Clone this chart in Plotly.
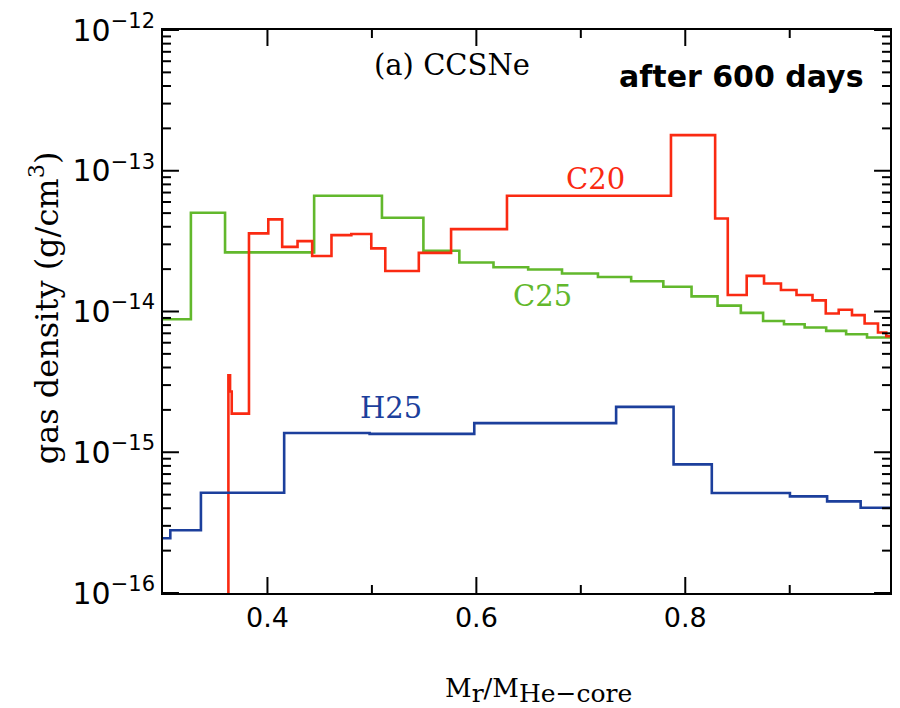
import math
import plotly.graph_objects as go

# ---- data (bin left edges and densities, g/cm^3) ----
c25_edges = [0.300, 0.3267, 0.3594, 0.4447, 0.5096, 0.5493, 0.5837, 0.6164, 0.6496,
             0.6820, 0.7164, 0.7482, 0.7790, 0.8060, 0.8309, 0.8532, 0.8745, 0.8945,
             0.9143, 0.9349, 0.9540, 0.9740]
c25_vals = [8.81e-15, 5.03e-14, 2.63e-14, 6.64e-14, 4.63e-14, 2.70e-14, 2.23e-14, 2.06e-14,
            1.99e-14, 1.86e-14, 1.76e-14, 1.64e-14, 1.50e-14, 1.28e-14, 1.10e-14, 9.78e-15,
            8.57e-15, 8.12e-15, 7.69e-15, 7.28e-15, 6.90e-15, 6.53e-15]

c20_edges = [0.3626, 0.3642, 0.3658, 0.3823, 0.4008, 0.4141, 0.4288, 0.4428, 0.4613,
             0.4803, 0.4994, 0.5128, 0.5449, 0.5758, 0.6293, 0.7863, 0.8286, 0.8407,
             0.8588, 0.8754, 0.8916, 0.9065, 0.9218, 0.9345, 0.9469, 0.9596, 0.9717,
             0.9845, 0.9924]
c20_vals = [3.52e-15, 2.70e-15, 1.88e-15, 3.59e-14, 4.51e-14, 2.88e-14, 3.16e-14, 2.48e-14,
            3.49e-14, 3.55e-14, 2.81e-14, 1.94e-14, 2.61e-14, 3.85e-14, 6.64e-14, 1.79e-13,
            4.58e-14, 1.31e-14, 1.79e-14, 1.58e-14, 1.42e-14, 1.31e-14, 1.20e-14, 9.68e-15,
            1.03e-14, 9.42e-15, 8.22e-15, 7.10e-15, 6.67e-15]
c20_floor = 1e-17  # inner edge drops off the bottom of the plot

h25_edges = [0.300, 0.307, 0.3363, 0.4160, 0.4978, 0.5980, 0.7338, 0.7888, 0.8254,
             0.9002, 0.9358, 0.9679]
h25_vals = [2.45e-16, 2.79e-16, 5.16e-16, 1.37e-15, 1.35e-15, 1.61e-15, 2.10e-15, 8.20e-16,
            5.13e-16, 4.86e-16, 4.48e-16, 4.03e-16]

x_start, x_end = 0.3, 0.996
y_lo, y_hi = -16, -12

y_tickvals = [1e-16, 1e-15, 1e-14, 1e-13, 1e-12]
y_ticktext = ["10<sup>−16</sup>", "10<sup>−15</sup>", "10<sup>−14</sup>",
              "10<sup>−13</sup>", "10<sup>−12</sup>"]
x_tickvals = [0.4, 0.6, 0.8]
x_ticktext = ["0.4", "0.6", "0.8"]
x_minor_vals = [0.5, 0.7, 0.9]
y_minor_vals = [k * 10.0 ** e for e in range(y_lo, y_hi) for k in range(2, 10)]

RED = "#fa2a12"
GREEN = "#62b82c"
BLUE = "#1c3f9c"

W, H = 900, 708
M_L, M_R, M_T, M_B = 163, 8, 30, 115
PW, PH = W - M_L - M_R, H - M_T - M_B


def steps(edges, vals):
    return list(edges) + [x_end], list(vals) + [vals[-1]]


fig = go.Figure()

gx, gy = steps(c25_edges, c25_vals)
fig.add_trace(go.Scatter(x=gx, y=gy, mode="lines", line=dict(color=GREEN, width=2.6, shape="hv"),
                         showlegend=False))

rx, ry = steps(c20_edges, c20_vals)
rx = [c20_edges[0]] + rx
ry = [c20_floor] + ry
fig.add_trace(go.Scatter(x=rx, y=ry, mode="lines", line=dict(color=RED, width=2.6, shape="hv"),
                         showlegend=False))

bx, by = steps(h25_edges, h25_vals)
fig.add_trace(go.Scatter(x=bx, y=by, mode="lines", line=dict(color=BLUE, width=2.6, shape="hv"),
                         showlegend=False))

serif = "DejaVu Serif"
sans = "DejaVu Sans"

fig.update_layout(
    width=W, height=H,
    margin=dict(l=M_L, r=M_R, t=M_T, b=M_B),
    paper_bgcolor="white", plot_bgcolor="white",
    xaxis=dict(
        range=[x_start, x_end], showline=True, mirror=True, linecolor="black", linewidth=2,
        showgrid=False, zeroline=False, ticks="",
        tickvals=x_tickvals, ticktext=x_ticktext,
        tickfont=dict(family=sans, size=27, color="black"),
    ),
    yaxis=dict(
        type="log", range=[y_lo, y_hi], showline=True, mirror=True, linecolor="black",
        linewidth=2, showgrid=False, zeroline=False, ticks="",
        tickvals=y_tickvals, ticktext=y_ticktext,
        tickfont=dict(family=sans, size=30, color="black"),
    ),
)

# inward tick marks on all four sides (positions follow the tick value arrays)
tick_line = dict(color="black", width=2)
for vals, plen in ((x_tickvals, 16), (x_minor_vals, 8)):
    for v in vals:
        xp = (v - x_start) / (x_end - x_start)
        fig.add_shape(type="line", xref="paper", yref="paper", x0=xp, x1=xp,
                      y0=0, y1=plen / PH, line=tick_line)
        fig.add_shape(type="line", xref="paper", yref="paper", x0=xp, x1=xp,
                      y0=1, y1=1 - plen / PH, line=tick_line)
for vals, plen in ((y_tickvals, 16), (y_minor_vals, 8)):
    for v in vals:
        yp = (math.log10(v) - y_lo) / (y_hi - y_lo)
        fig.add_shape(type="line", xref="paper", yref="paper", y0=yp, y1=yp,
                      x0=0, x1=plen / PW, line=tick_line)
        fig.add_shape(type="line", xref="paper", yref="paper", y0=yp, y1=yp,
                      x0=1, x1=1 - plen / PW, line=tick_line)

# axis titles as annotations (placed as in the original)
fig.add_annotation(
    text="M<sub><span style='font-size:25px'>r</span></sub>/M"
         "<sub><span style='font-size:25px'>He−core</span></sub>",
    x=(540 - M_L) / PW, y=-0.174, xref="paper", yref="paper",
    showarrow=False, xanchor="center", yanchor="middle",
    font=dict(family=serif, size=26, color="black"))
fig.add_annotation(
    text="gas density (g/cm<sup>3</sup>)", textangle=-90,
    x=(44 - M_L) / PW, y=(593 - 308) / PH, xref="paper", yref="paper",
    showarrow=False, xanchor="center", yanchor="middle",
    font=dict(family=serif, size=32, color="black"))

ann = [
    ("(a) CCSNe", 0.398, 0.937, serif, 29, "black"),
    ("<b>after 600 days</b>", 0.796, 0.917, sans, 30, "black"),
    ("C20", 0.5955, 0.735, serif, 29, RED),
    ("C25", 0.5215, 0.528, serif, 29, GREEN),
    ("H25", 0.314, 0.329, serif, 29, BLUE),
]
for text, xp, yp, fam, size, col in ann:
    fig.add_annotation(text=text, x=xp, y=yp, xref="paper", yref="paper",
                       showarrow=False, xanchor="center", yanchor="middle",
                       font=dict(family=fam, size=size, color=col))

fig.write_html("out.html")
